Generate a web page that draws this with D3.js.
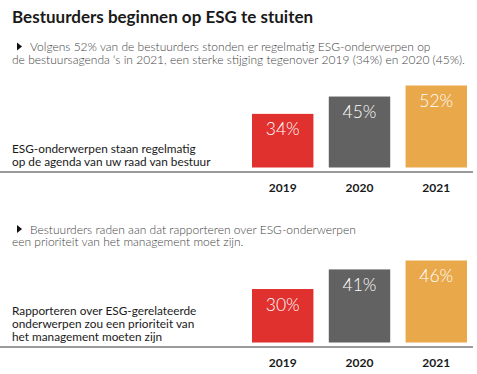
<!DOCTYPE html>
<html>
<head>
<meta charset="utf-8">
<script src="https://cdn.jsdelivr.net/npm/d3@7"></script>
<style>
  body { margin: 0; background: #fff; }
  text { font-family: Lato, "Open Sans", sans-serif; }
</style>
</head>
<body>
<div id="chart"></div>
<script>
const width = 477,
  height = 374;

// data
const years = ["2019", "2020", "2021"];
const agendaValues = [34, 45, 52];
const reportingValues = [30, 41, 46];
const barColors = ["#e0312f", "#626262", "#e9a84a"];

const title = "Bestuurders beginnen op ESG te stuiten";
const agendaNote = ["Volgens 52% van de bestuurders stonden er regelmatig ESG-onderwerpen op",
  "de bestuursagenda \u2018s in 2021, een sterke stijging tegenover 2019 (34%) en 2020 (45%)."];
const agendaLabel = ["ESG-onderwerpen staan regelmatig", "op de agenda van uw raad van bestuur"];
const reportingNote = ["Bestuurders raden aan dat rapporteren over ESG-onderwerpen",
  "een prioriteit van het management moet zijn."];
const reportingLabel = ["Rapporteren over ESG-gerelateerde", "onderwerpen zou een prioriteit van",
  "het management moeten zijn"];

const svg = d3.select("#chart")
  .append("svg")
  .attr("width", width)
  .attr("height", height);

svg.append("text")
  .attr("x", 12)
  .attr("y", 23)
  .attr("font-size", 17)
  .attr("font-weight", 700)
  .attr("fill", "#1a1a1a")
  .text(title);

const xScale = d3.scaleBand()
  .domain(years)
  .range([252, 467])
  .paddingInner(0.2)
  .paddingOuter(0);

const colorScale = d3.scaleOrdinal()
  .domain(years)
  .range(barColors);

// one panel = note + bars + left label
function panel(top, note, label, values, baseY) {
  const g = svg.append("g");

  // note with little triangle
  g.append("path")
    .attr("d", `M17,${top - 8.5} L22,${top - 4.5} L17,${top - 0.5} Z`)
    .attr("fill", "#111");

  g.selectAll("text.note")
    .data(note)
    .join("text")
    .attr("class", "note")
    .attr("x", (d, i) => i === 0 ? 30 : 12)
    .attr("y", (d, i) => top + i * 12.5)
    .attr("font-size", 12)
    .attr("font-weight", 300)
    .attr("fill", "#444")
    .text(d => d);

  const yScale = d3.scaleLinear()
    .domain([0, d3.max(values)])
    .range([baseY - 4.5, baseY - 86.5]);

  const data = years.map((y, i) => ({ year: y, value: values[i] }));

  g.selectAll("rect")
    .data(data)
    .join("rect")
    .attr("x", d => xScale(d.year))
    .attr("y", d => yScale(d.value))
    .attr("width", xScale.bandwidth())
    .attr("height", d => yScale(0) - yScale(d.value))
    .attr("fill", d => colorScale(d.year));

  g.selectAll("text.val")
    .data(data)
    .join("text")
    .attr("class", "val")
    .attr("x", d => xScale(d.year) + xScale.bandwidth() / 2)
    .attr("y", d => yScale(d.value) + 21.5)
    .attr("text-anchor", "middle")
    .attr("font-size", 17.5)
    .attr("font-weight", 300)
    .attr("fill", "#fff")
    .text(d => d.value + "%");

  g.append("line")
    .attr("x1", 0)
    .attr("x2", 473)
    .attr("y1", baseY)
    .attr("y2", baseY)
    .attr("stroke", "#9a9a9a")
    .attr("stroke-width", 2);

  g.selectAll("text.year")
    .data(years)
    .join("text")
    .attr("class", "year")
    .attr("x", d => xScale(d) + xScale.bandwidth() / 2)
    .attr("y", baseY + 19.5)
    .attr("text-anchor", "middle")
    .attr("font-family", "'Liberation Sans', Arial, sans-serif")
    .attr("font-size", 12)
    .attr("font-weight", 700)
    .attr("fill", "#1a1a1a")
    .text(d => d);

  g.selectAll("text.lab")
    .data(label)
    .join("text")
    .attr("class", "lab")
    .attr("x", 12)
    .attr("y", (d, i) => baseY - 6.5 - (label.length - 1 - i) * 12.8)
    .attr("font-size", 11.8)
    .attr("fill", "#1a1a1a")
    .text(d => d);
}

panel(51, agendaNote, agendaLabel, agendaValues, 172);
panel(233.5, reportingNote, reportingLabel, reportingValues, 347);
</script>
</body>
</html>
